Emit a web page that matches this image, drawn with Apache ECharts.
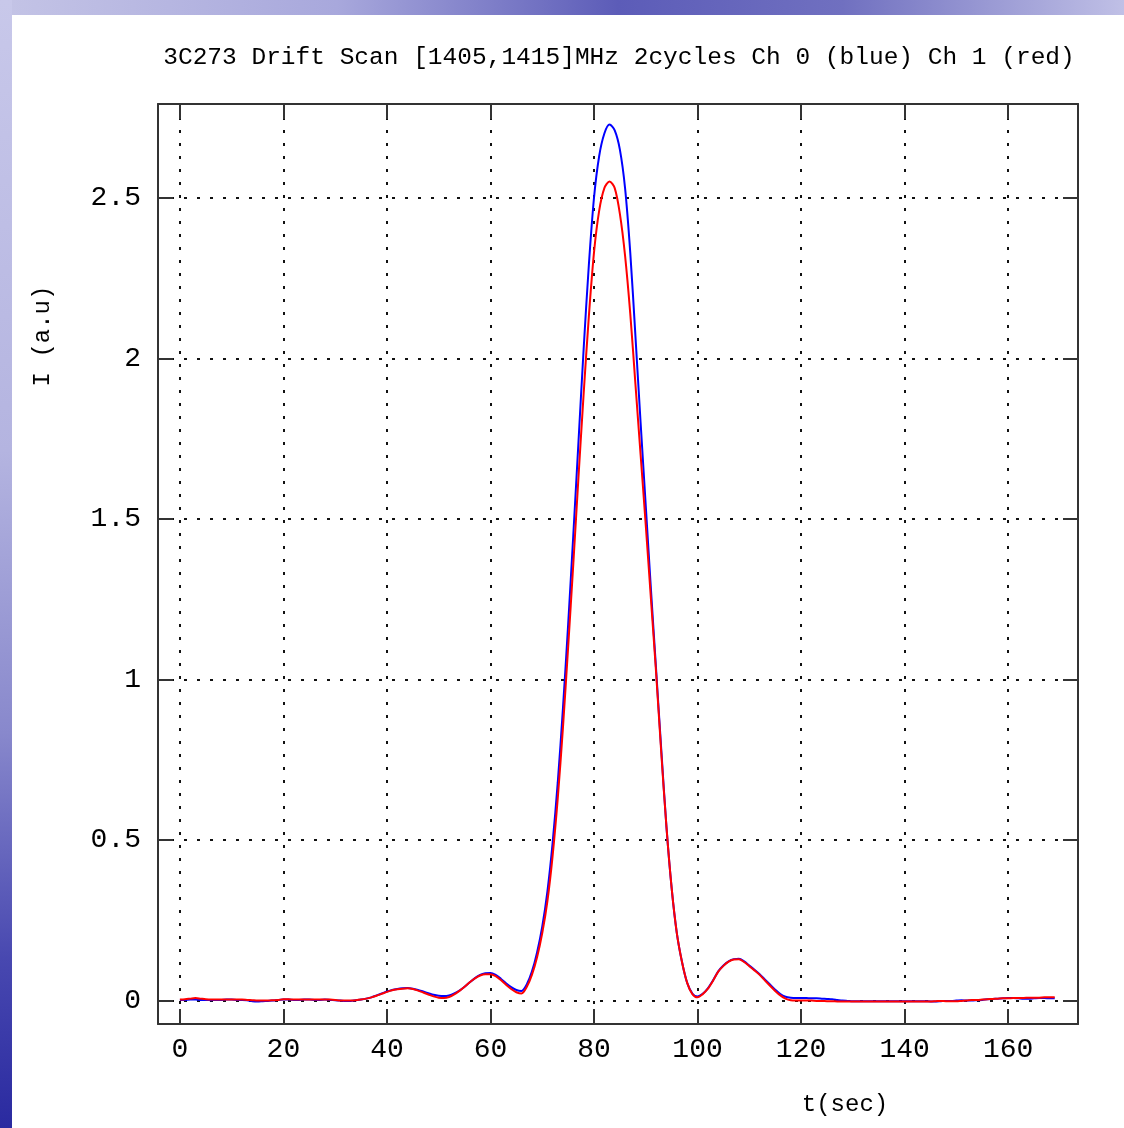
<!DOCTYPE html>
<html lang="en">
<head>
    <meta charset="UTF-8">
    <title>3C273 drift scan</title>
    <script type="text/javascript" src="https://cdn.jsdelivr.net/npm/echarts@6/dist/echarts.min.js"></script>
    <style>
        body { margin: 0; width: 1124px; height: 1128px; position: relative; overflow: hidden;
               background: linear-gradient(90deg, #c4c4e6 0%, #a8a8dc 30%, #5c5cb8 55%, #7070c0 75%, #c0c0e6 100%); }
        #strip { position: absolute; left: 0; top: 0; width: 12px; height: 1128px;
                 background: linear-gradient(180deg, #c8c8ea 0%, #b4b4e0 40%, #8888cc 65%, #4848b0 85%, #2a2aa0 100%); }
        #paper { position: absolute; left: 12px; top: 15px; width: 1112px; height: 1113px; background: #fff; }
        #main { position: absolute; left: 0; top: 0; width: 1124px; height: 1128px; }
    </style>
</head>
<body>
    <div id="strip"></div>
    <div id="paper"></div>
    <div id="main"></div>
    <script type="text/javascript">
        // t(sec), one sample per second
        var times = [];
        for (var i = 0; i < 170; i++) times.push(i);

        // Ch 0 (blue)
        var ch0 = [
            0.002, 0.002, 0.003, 0.003, 0.002, 0.002, 0.001, 0.002, 0.002, 0.003,
            0.003, 0.002, 0.002, 0.001, -0.002, -0.003, -0.002, -0.001, 0.000, 0.002,
            0.003, 0.003, 0.002, 0.002, 0.003, 0.003, 0.002, 0.002, 0.003, 0.002,
            0.001, 0.000, -0.001, -0.001, 0.001, 0.003, 0.006, 0.010, 0.016, 0.022,
            0.028, 0.033, 0.036, 0.038, 0.039, 0.037, 0.033, 0.028, 0.023, 0.018,
            0.015, 0.014, 0.016, 0.022, 0.031, 0.043, 0.057, 0.070, 0.080, 0.085,
            0.086, 0.080, 0.068, 0.054, 0.042, 0.033, 0.030, 0.050, 0.090, 0.150,
            0.230, 0.340, 0.490, 0.680, 0.910, 1.170, 1.450, 1.740, 2.030, 2.290,
            2.500, 2.630, 2.700, 2.728, 2.710, 2.650, 2.530, 2.330, 2.070, 1.800,
            1.540, 1.280, 1.030, 0.780, 0.540, 0.350, 0.210, 0.120, 0.055, 0.022,
            0.013, 0.021, 0.038, 0.063, 0.091, 0.109, 0.122, 0.129, 0.130, 0.122,
            0.109, 0.096, 0.082, 0.066, 0.050, 0.034, 0.020, 0.012, 0.009, 0.008,
            0.008, 0.008, 0.007, 0.007, 0.006, 0.005, 0.004, 0.002, 0.000, -0.001,
            -0.002, -0.002, -0.002, -0.002, -0.002, -0.002, -0.002, -0.002, -0.002, -0.002,
            -0.002, -0.002, -0.002, -0.002, -0.002, -0.003, -0.003, -0.002, -0.001, -0.001,
            0.000, 0.001, 0.000, 0.000, 0.001, 0.002, 0.004, 0.005, 0.006, 0.007,
            0.008, 0.008, 0.007, 0.006, 0.006, 0.007, 0.008, 0.008, 0.007, 0.007
        ];

        // Ch 1 (red)
        var ch1 = [
            0.003, 0.004, 0.006, 0.008, 0.006, 0.004, 0.003, 0.003, 0.003, 0.003,
            0.003, 0.003, 0.003, 0.002, 0.001, 0.000, 0.000, 0.000, 0.001, 0.002,
            0.004, 0.004, 0.003, 0.003, 0.003, 0.003, 0.003, 0.003, 0.003, 0.003,
            0.002, 0.000, 0.000, 0.000, 0.001, 0.003, 0.006, 0.010, 0.015, 0.021,
            0.027, 0.032, 0.035, 0.037, 0.038, 0.036, 0.031, 0.025, 0.019, 0.013,
            0.009, 0.008, 0.011, 0.019, 0.030, 0.043, 0.057, 0.069, 0.078, 0.082,
            0.082, 0.076, 0.064, 0.049, 0.036, 0.026, 0.022, 0.042, 0.080, 0.135,
            0.210, 0.310, 0.450, 0.630, 0.850, 1.100, 1.360, 1.630, 1.890, 2.130,
            2.330, 2.460, 2.530, 2.551, 2.530, 2.450, 2.320, 2.140, 1.920, 1.700,
            1.480, 1.250, 1.020, 0.770, 0.540, 0.350, 0.210, 0.120, 0.055, 0.020,
            0.010, 0.020, 0.037, 0.062, 0.090, 0.108, 0.121, 0.128, 0.129, 0.120,
            0.107, 0.094, 0.080, 0.063, 0.046, 0.030, 0.016, 0.006, 0.001, 0.000,
            0.000, 0.000, 0.000, -0.001, -0.001, -0.002, -0.002, -0.003, -0.003, -0.003,
            -0.003, -0.003, -0.003, -0.003, -0.003, -0.003, -0.003, -0.003, -0.003, -0.003,
            -0.003, -0.003, -0.003, -0.003, -0.003, -0.003, -0.002, -0.001, -0.002, -0.002,
            -0.002, -0.001, 0.000, 0.002, 0.002, 0.003, 0.004, 0.005, 0.006, 0.007,
            0.007, 0.008, 0.008, 0.008, 0.009, 0.009, 0.009, 0.010, 0.010, 0.010
        ];

        var xTicks = [0, 20, 40, 60, 80, 100, 120, 140, 160];
        var yTicks = [0, 0.5, 1, 1.5, 2, 2.5];

        var font = "'Liberation Mono', 'DejaVu Sans Mono', monospace";

        function pairs(vals) {
            return times.map(function (t, i) { return [t, vals[i]]; });
        }

        var frame = { show: true, onZero: false, lineStyle: { color: '#333', width: 2 } };
        var grid = { lineStyle: { color: '#111', width: 2, type: [3, 10] } };

        function xAx(pos, labels) {
            return {
                type: 'value', position: pos, min: -4.23, max: 173.5,
                axisLine: frame,
                axisTick: { show: true, inside: true, length: 15, customValues: xTicks, lineStyle: { color: '#333', width: 2 } },
                axisLabel: { show: labels, customValues: xTicks, fontFamily: font, fontSize: 28, color: '#000', margin: 12 },
                splitLine: labels ? Object.assign({ show: true }, grid) : { show: false }
            };
        }
        function yAx(pos, labels) {
            return {
                type: 'value', position: pos, min: -0.073, max: 2.792,
                axisLine: frame,
                axisTick: { show: true, inside: true, length: 15, customValues: yTicks, lineStyle: { color: '#333', width: 2 } },
                axisLabel: { show: labels, customValues: yTicks, fontFamily: font, fontSize: 28, color: '#000', margin: 17 },
                splitLine: labels ? Object.assign({ show: true }, grid) : { show: false }
            };
        }

        var myChart = echarts.init(document.getElementById('main'));
        var option = {
            animation: false,
            title: {
                text: '3C273 Drift Scan [1405,1415]MHz 2cycles Ch 0 (blue) Ch 1 (red)',
                left: 614, top: 40, textAlign: 'center',
                textStyle: { fontFamily: font, fontSize: 24.5, fontWeight: 'normal', color: '#000' }
            },
            grid: { left: 158, top: 104, right: 46, bottom: 104, containLabel: false },
            xAxis: [xAx('bottom', true), xAx('top', false)],
            yAxis: [yAx('left', true), yAx('right', false)],
            graphic: [
                { type: 'text', x: 845, y: 1105, style: { text: 't(sec)', font: "24px " + font, fill: '#000', align: 'center', verticalAlign: 'middle' } },
                { type: 'text', x: 43, y: 336, rotation: Math.PI / 2, style: { text: 'I (a.u)', font: "24px " + font, fill: '#000', align: 'center', verticalAlign: 'middle' } }
            ],
            series: [
                { name: 'Ch 0', type: 'line', data: pairs(ch0), showSymbol: false, smooth: 0.3,
                  lineStyle: { color: '#0000ff', width: 2 }, itemStyle: { color: '#0000ff' } },
                { name: 'Ch 1', type: 'line', data: pairs(ch1), showSymbol: false, smooth: 0.3,
                  lineStyle: { color: '#ff0000', width: 2 }, itemStyle: { color: '#ff0000' } }
            ]
        };
        myChart.setOption(option);
    </script>
</body>
</html>
